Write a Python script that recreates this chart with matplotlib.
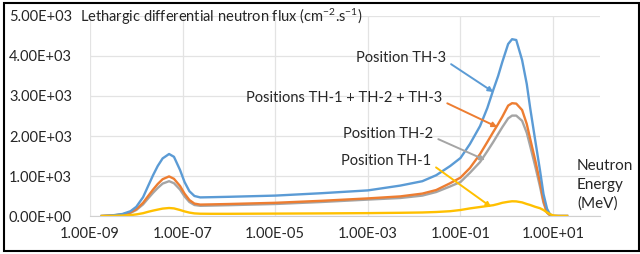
import numpy as np
import matplotlib
matplotlib.use("Agg")
import matplotlib.pyplot as plt
from matplotlib.patches import Rectangle

plt.rcParams['font.family'] = ['Lato', 'DejaVu Sans']
plt.rcParams['mathtext.default'] = 'regular'

# energy grid (MeV)
energy = [1.8e-9, 3e-9, 5e-9, 7.5e-9, 1e-8, 1.4e-8, 1.8e-8, 2.3e-8, 2.9e-8,
          3.7e-8, 5.1e-8, 6.5e-8, 8.8e-8, 1.1e-7, 1.4e-7, 1.8e-7, 2.4e-7,
          4e-7, 1e-6, 1e-5, 1e-4, 1e-3, 5e-3, 1.5e-2, 3e-2, 6e-2, 1e-1,
          0.16, 0.265, 0.38, 0.51, 0.65, 0.8, 1.07, 1.3, 1.6, 2.14, 2.7,
          3.2, 4.1, 5.2, 6.2, 7.4, 8.6, 10, 13, 20]

# lethargic flux values per position
th3 = [0, 15, 50, 120, 230, 470, 750, 1020, 1250,
       1440, 1550, 1480, 1150, 850, 620, 500, 465,
       470, 480, 510, 570, 640, 760, 870, 1020, 1250, 1450,
       1800, 2250, 2700, 3150, 3500, 3850, 4300, 4420, 4400, 3900, 3300,
       2700, 1900, 1150, 550, 180, 40, 0, 0, 0]
th_sum = [0, 12, 40, 90, 170, 330, 500, 660, 800,
          920, 990, 930, 750, 560, 400, 310, 285,
          290, 300, 330, 380, 440, 490, 560, 650, 820, 960,
          1200, 1550, 1850, 2100, 2300, 2480, 2760, 2820, 2810, 2650, 2300,
          1930, 1400, 850, 380, 90, 20, 0, 0, 0]
th2 = [0, 10, 35, 80, 150, 290, 440, 580, 700,
       810, 870, 820, 660, 490, 350, 275, 255,
       260, 270, 300, 350, 410, 450, 510, 600, 740, 850,
       1080, 1350, 1620, 1850, 2050, 2220, 2440, 2510, 2510, 2380, 2080,
       1750, 1250, 740, 330, 80, 15, 0, 0, 0]
th1 = [0, 3, 10, 22, 40, 70, 105, 135, 160,
       185, 200, 190, 150, 115, 85, 65, 57,
       55, 55, 60, 65, 72, 80, 88, 100, 120, 150,
       190, 225, 250, 270, 300, 330, 355, 368, 365, 340, 300,
       275, 230, 195, 150, 90, 45, 15, 0, 0]

yticks = [0, 1000, 2000, 3000, 4000, 5000]
ytick_labels = ["0.00E+00", "1.00E+03", "2.00E+03", "3.00E+03", "4.00E+03", "5.00E+03"]
xticks = [1e-9, 1e-7, 1e-5, 1e-3, 1e-1, 1e1]
xtick_labels = ["1.00E-09", "1.00E-07", "1.00E-05", "1.00E-03", "1.00E-01", "1.00E+01"]

txt = '#262626'
W, H = 640, 254
fig = plt.figure(figsize=(6.4, 2.54), dpi=100)
ax = fig.add_axes([90 / W, (H - 216) / H, 510 / W, 200 / H])

for vals, c in [(th2, '#A5A5A5'), (th_sum, '#ED7D31'), (th3, '#5B9BD5'), (th1, '#FFC000')]:
    ax.plot(energy, vals, color=c, lw=1.7, solid_joinstyle='round')

ax.set_xscale('log')
ax.set_xlim(1e-9, 1.03e2)
ax.set_ylim(0, 5000)
ax.set_xticks(xticks)
ax.set_xticklabels(xtick_labels)
ax.minorticks_off()
ax.set_yticks(yticks)
ax.set_yticklabels(ytick_labels)
ax.tick_params(axis='x', length=0, pad=8, labelsize=10.5, labelcolor=txt)
ax.tick_params(axis='y', length=0, pad=13, labelsize=10.5, labelcolor=txt)
ax.grid(True, color='#e3e3e3', lw=0.9)
ax.set_axisbelow(True)
for s in ['top', 'right', 'left']:
    ax.spines[s].set_visible(False)
ax.spines['bottom'].set_color('#d0d0d0')

fig.text(80 / W, 1 - 17 / H,
         "Lethargic differential neutron flux (cm$^{-2}$.s$^{-1}$)",
         fontsize=10.5, color=txt, va='center', ha='left')
fig.text(577 / W, 1 - 185 / H, "Neutron\nEnergy\n(MeV)", fontsize=11,
         color=txt, va='center', ha='left', linespacing=1.4)

# callouts: (label, text right end px, text y px, tip energy, tip value, colour)
notes = [("Position TH-3", 446, 58, 0.51, 3100, '#5B9BD5'),
         ("Positions TH-1 + TH-2 + TH-3", 442, 98, 0.62, 2225, '#ED7D31'),
         ("Position TH-2", 433, 134, 0.34, 1400, '#A5A5A5'),
         ("Position TH-1", 431, 161, 0.46, 225, '#FFC000')]
for label, tx, ty, ex, ey, c in notes:
    ax.annotate(label, xy=(ex, ey), xycoords='data',
                xytext=(tx / W, 1 - ty / H), textcoords='figure fraction',
                ha='right', va='center', fontsize=10.5, color=txt,
                arrowprops=dict(arrowstyle='-|>', color=c, lw=1.4,
                                mutation_scale=7, shrinkA=2, shrinkB=0,
                                relpos=(1.0, 0.3)))

fig.patches.append(Rectangle((4 / W, 3 / H), 635 / W, 248 / H,
                             transform=fig.transFigure, fill=False,
                             edgecolor='black', lw=1.5))

fig.savefig("out.png", dpi=100)
